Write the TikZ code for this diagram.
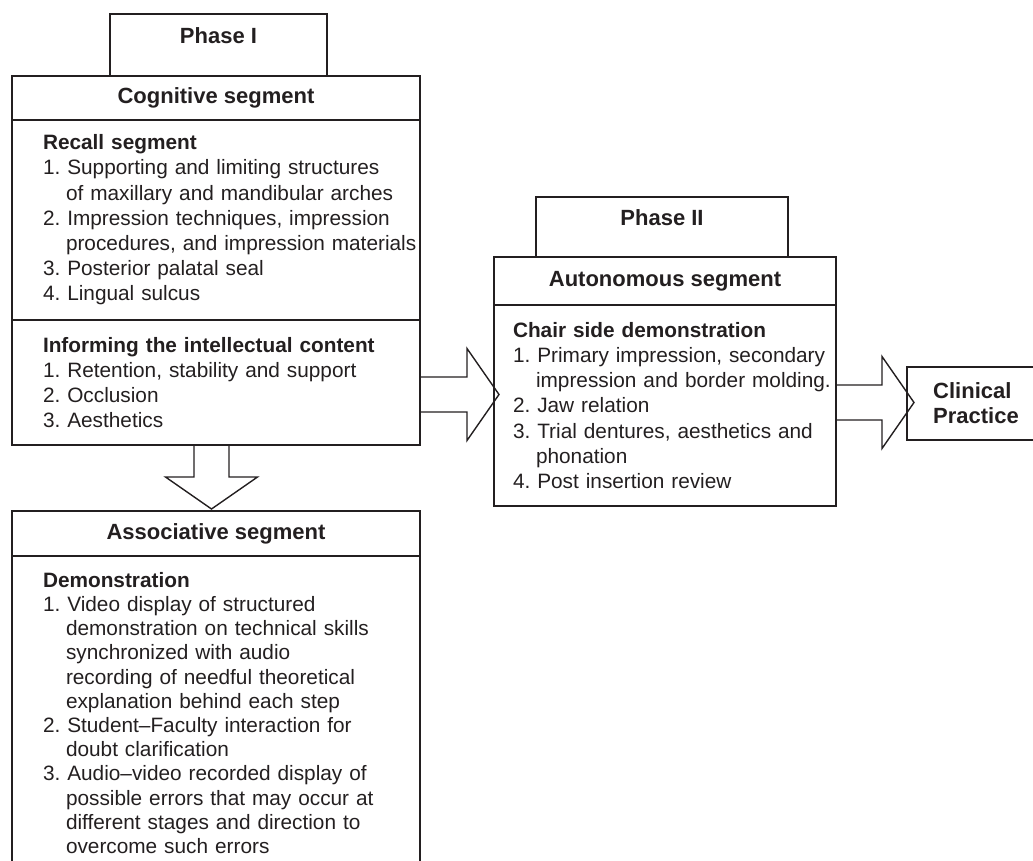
\documentclass[tikz,border=0pt]{standalone}
\usepackage{fontspec}
\setmainfont{Liberation Sans}
\usepackage{xcolor}
\usepackage{tikz}
\usetikzlibrary{positioning}
\definecolor{ink}{HTML}{231F20}
\newcommand{\ind}{\hspace*{11.5pt}}
\frenchspacing
\tikzset{
  segbox/.style={draw=ink,line width=0.7pt,outer sep=0pt,text=ink},
  tabbox/.style={segbox,inner ysep=0pt,font=\fontsize{11}{13}\selectfont\bfseries},
  headbox/.style={segbox,font=\fontsize{11}{13}\selectfont\bfseries},
  bodybox/.style={segbox,inner xsep=0pt,align=left,font=\fontsize{10.4}{12.6}\selectfont,
    execute at begin node={\leftskip=#1\rightskip=-12pt plus 1fil}},
  pics/bigarrow/.style={code={\draw[draw=ink,line width=0.7pt] (0,-17.5) -- (#1,-17.5) -- (#1,-46) -- (#1+32,0) -- (#1,46) -- (#1,17.5) -- (0,17.5);}}
}

\begin{document}
\begin{tikzpicture}[x=0.5pt,y=-0.5pt]
  \useasboundingbox (0,0) rectangle (1033,861);
  \node[headbox,anchor=north,minimum width=204pt,minimum height=22pt] (cogtitle) at (216,76) {Cognitive segment};
  \node[tabbox,above=0pt of cogtitle,xshift=1.25pt,minimum width=108.5pt,text height=15pt,text depth=16pt] (phaseI) {Phase I};
  \node[bodybox=15.5pt,text width=204pt,minimum height=100pt,below=0pt of cogtitle] (recall) {\textbf{Recall segment}\\
    1. Supporting and limiting structures\\
    \ind of maxillary and mandibular arches\\
    2. Impression techniques, impression\\
    \ind procedures, and impression materials\\
    3. Posterior palatal seal\\
    4. Lingual sulcus};
  \node[bodybox=15.5pt,text width=204pt,minimum height=62.5pt,below=0pt of recall] (inform) {\textbf{Informing the intellectual content}\\
    1. Retention, stability and support\\
    2. Occlusion\\
    3. Aesthetics};

  \node[headbox,anchor=north,minimum width=204pt,minimum height=22.5pt] (assoctitle) at (216,511) {Associative segment};
  \node[bodybox=15.5pt,text width=204pt,minimum height=157pt,below=0pt of assoctitle,font=\fontsize{10.4}{12.1}\selectfont] (demo) {\textbf{Demonstration}\\
    1. Video display of structured\\
    \ind demonstration on technical skills\\
    \ind synchronized with audio\\
    \ind recording of needful theoretical\\
    \ind explanation behind each step\\
    2. Student--Faculty interaction for\\
    \ind doubt clarification\\
    3. Audio--video recorded display of\\
    \ind possible errors that may occur at\\
    \ind different stages and direction to\\
    \ind overcome such errors};

  \node[headbox,anchor=north,minimum width=171pt,minimum height=24pt] (autotitle) at (665,257) {Autonomous segment};
  \node[tabbox,above=0pt of autotitle,xshift=-1.5pt,minimum width=126pt,text height=14.5pt,text depth=15.5pt] (phaseII) {Phase II};
  \node[bodybox=9.5pt,text width=171pt,minimum height=100.5pt,below=0pt of autotitle] (chair) {\textbf{Chair side demonstration}\\
    1. Primary impression, secondary\\
    \ind impression and border molding.\\
    2. Jaw relation\\
    3. Trial dentures, aesthetics and\\
    \ind phonation\\
    4. Post insertion review};

  \node[headbox,align=left,minimum width=69pt,minimum height=36.5pt,font=\fontsize{11}{12.5}\selectfont\bfseries] (clinic) at (976,403.5) {Clinical\\Practice};

  \pic at ([yshift=-6pt]inform.east) {bigarrow=47};
  \pic at ([yshift=1.5pt]chair.east) {bigarrow=46};
  \pic[rotate=-90] at ([xshift=-2.25pt]inform.south) {bigarrow=32};
\end{tikzpicture}
\end{document}
